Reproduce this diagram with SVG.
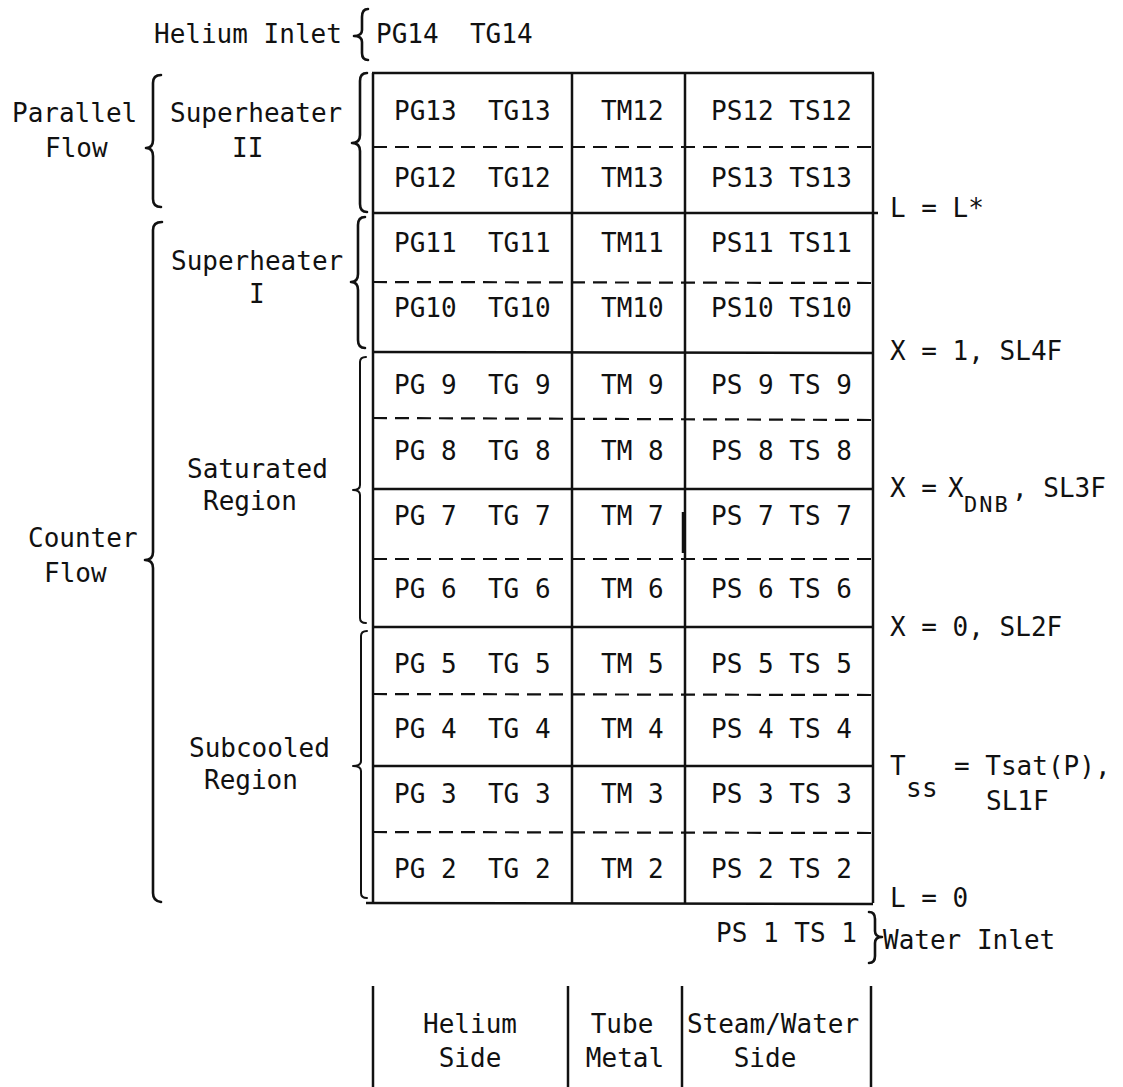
<svg xmlns="http://www.w3.org/2000/svg" width="1123" height="1087" viewBox="0 0 1123 1087">
<style>
text{font-family:"DejaVu Sans Mono","Liberation Mono",monospace;font-size:26px;fill:#111}
.sub{font-size:22px;letter-spacing:2px}
.solid{stroke:#111;stroke-width:2.5;fill:none}
.dash{stroke:#111;stroke-width:2.2;fill:none;stroke-dasharray:14 8}
.brace{stroke:#111;stroke-width:2.6;fill:none;stroke-linecap:round;stroke-linejoin:round}
.thin{stroke-width:2}
</style>
<rect width="1123" height="1087" fill="#fff"/>
<g id="connectors">
  <line class="solid" x1="372" y1="73" x2="874" y2="73"/>
  <line class="solid" x1="373" y1="73" x2="373" y2="903"/>
  <line class="solid" x1="572" y1="73" x2="572" y2="903"/>
  <line class="solid" x1="685" y1="73" x2="685" y2="903"/>
  <line class="solid" x1="873" y1="73" x2="873" y2="903"/>
  <line class="solid" x1="372" y1="213" x2="878" y2="213"/>
  <line class="solid" x1="372" y1="352" x2="873" y2="353"/>
  <line class="solid" x1="372" y1="489" x2="873" y2="489"/>
  <line class="solid" x1="372" y1="627" x2="873" y2="627"/>
  <line class="solid" x1="372" y1="766" x2="873" y2="766"/>
  <line class="solid" x1="366" y1="903" x2="873" y2="904"/>
  <line class="solid" x1="683" y1="512" x2="683" y2="553"/>
  <line class="dash" x1="373" y1="147" x2="873" y2="147"/>
  <line class="dash" x1="373" y1="282" x2="873" y2="283"/>
  <line class="dash" x1="373" y1="418" x2="873" y2="420"/>
  <line class="dash" x1="373" y1="559" x2="873" y2="559"/>
  <line class="dash" x1="373" y1="694" x2="873" y2="695"/>
  <line class="dash" x1="373" y1="832" x2="873" y2="833"/>
  <line class="solid" x1="373" y1="986" x2="373" y2="1087"/>
  <line class="solid" x1="568" y1="986" x2="568" y2="1087"/>
  <line class="solid" x1="682" y1="986" x2="682" y2="1087"/>
  <line class="solid" x1="871" y1="986" x2="871" y2="1087"/>
  <path class="brace" d="M368 9 Q362 9 362 17 L362 30 Q362 36 354 36 Q362 36 362 42 L362 53 Q362 60 368 60"/>
  <path class="brace" d="M161 75 Q153 75 153 83 L153 140 Q153 148 146 148 Q153 148 153 156 L153 199 Q153 207 161 207"/>
  <path class="brace" d="M367 73 Q360 73 360 81 L360 135 Q360 143 352 143 Q360 143 360 151 L360 204 Q360 212 367 212"/>
  <path class="brace" d="M365 217 Q358 217 358 225 L358 274 Q358 282 351 282 Q358 282 358 290 L358 340 Q358 348 365 348"/>
  <path class="brace" d="M162 222 Q153 222 153 230 L153 552 Q153 560 145 560 Q153 560 153 568 L153 893 Q153 901 161 902"/>
  <path class="brace thin" d="M366 357 Q360 357 360 362 L360 485 Q360 490 353 490 Q360 490 360 495 L360 618 Q360 623 366 623"/>
  <path class="brace thin" d="M367 631 Q361 631 361 636 L361 761 Q361 766 353 766 Q361 766 361 771 L361 893 Q361 898 367 898"/>
  <path class="brace" d="M869 912 Q875 912 875 919 L875 931 Q875 937 882 937 Q875 937 875 943 L875 956 Q875 963 869 963"/>
</g>
<g id="labels-left">
  <text x="154" y="43">Helium Inlet</text>
  <text x="12" y="122">Parallel</text>
  <text x="45" y="157">Flow</text>
  <text x="170" y="122">Superheater</text>
  <text x="232" y="157">II</text>
  <text x="171" y="270">Superheater</text>
  <text x="249" y="303">I</text>
  <text x="28" y="547">Counter</text>
  <text x="44" y="582">Flow</text>
  <text x="187" y="478">Saturated</text>
  <text x="203" y="510">Region</text>
  <text x="189" y="757">Subcooled</text>
  <text x="204" y="789">Region</text>
</g>
<g id="inlet-helium"><text x="376" y="43" xml:space="preserve">PG14  TG14</text></g>
<g id="row13"><text x="394" y="120" xml:space="preserve">PG13  TG13</text><text x="601" y="120">TM12</text><text x="711" y="120">PS12 TS12</text></g>
<g id="row12"><text x="394" y="187" xml:space="preserve">PG12  TG12</text><text x="601" y="187">TM13</text><text x="711" y="187">PS13 TS13</text></g>
<g id="row11"><text x="394" y="252" xml:space="preserve">PG11  TG11</text><text x="601" y="252">TM11</text><text x="711" y="252">PS11 TS11</text></g>
<g id="row10"><text x="394" y="317" xml:space="preserve">PG10  TG10</text><text x="601" y="317">TM10</text><text x="711" y="317">PS10 TS10</text></g>
<g id="row9"><text x="394" y="394" xml:space="preserve">PG 9  TG 9</text><text x="601" y="394">TM 9</text><text x="711" y="394">PS 9 TS 9</text></g>
<g id="row8"><text x="394" y="460" xml:space="preserve">PG 8  TG 8</text><text x="601" y="460">TM 8</text><text x="711" y="460">PS 8 TS 8</text></g>
<g id="row7"><text x="394" y="525" xml:space="preserve">PG 7  TG 7</text><text x="601" y="525">TM 7</text><text x="711" y="525">PS 7 TS 7</text></g>
<g id="row6"><text x="394" y="598" xml:space="preserve">PG 6  TG 6</text><text x="601" y="598">TM 6</text><text x="711" y="598">PS 6 TS 6</text></g>
<g id="row5"><text x="394" y="673" xml:space="preserve">PG 5  TG 5</text><text x="601" y="673">TM 5</text><text x="711" y="673">PS 5 TS 5</text></g>
<g id="row4"><text x="394" y="738" xml:space="preserve">PG 4  TG 4</text><text x="601" y="738">TM 4</text><text x="711" y="738">PS 4 TS 4</text></g>
<g id="row3"><text x="394" y="803" xml:space="preserve">PG 3  TG 3</text><text x="601" y="803">TM 3</text><text x="711" y="803">PS 3 TS 3</text></g>
<g id="row2"><text x="394" y="878" xml:space="preserve">PG 2  TG 2</text><text x="601" y="878">TM 2</text><text x="711" y="878">PS 2 TS 2</text></g>
<g id="inlet-water"><text x="716" y="942">PS 1 TS 1</text><text x="883" y="949">Water Inlet</text></g>
<g id="labels-right">
  <text x="890" y="217">L = L*</text>
  <text x="890" y="360">X = 1, SL4F</text>
  <text x="890" y="497">X =</text><text x="948" y="497">X</text><text class="sub" x="964" y="512">DNB</text><text x="1012" y="497">, SL3F</text>
  <text x="890" y="636">X = 0, SL2F</text>
  <text x="890" y="775">T</text><text x="906 922" y="797">ss</text>
  <text x="954" y="775">= Tsat(P),</text>
  <text x="986" y="810">SL1F</text>
  <text x="890" y="907">L = 0</text>
</g>
<g id="column-heads">
  <text x="470" y="1033" text-anchor="middle">Helium</text>
  <text x="470" y="1067" text-anchor="middle">Side</text>
  <text x="622" y="1033" text-anchor="middle">Tube</text>
  <text x="625" y="1067" text-anchor="middle">Metal</text>
  <text x="773" y="1033" text-anchor="middle">Steam/Water</text>
  <text x="765" y="1067" text-anchor="middle">Side</text>
</g>
</svg>
